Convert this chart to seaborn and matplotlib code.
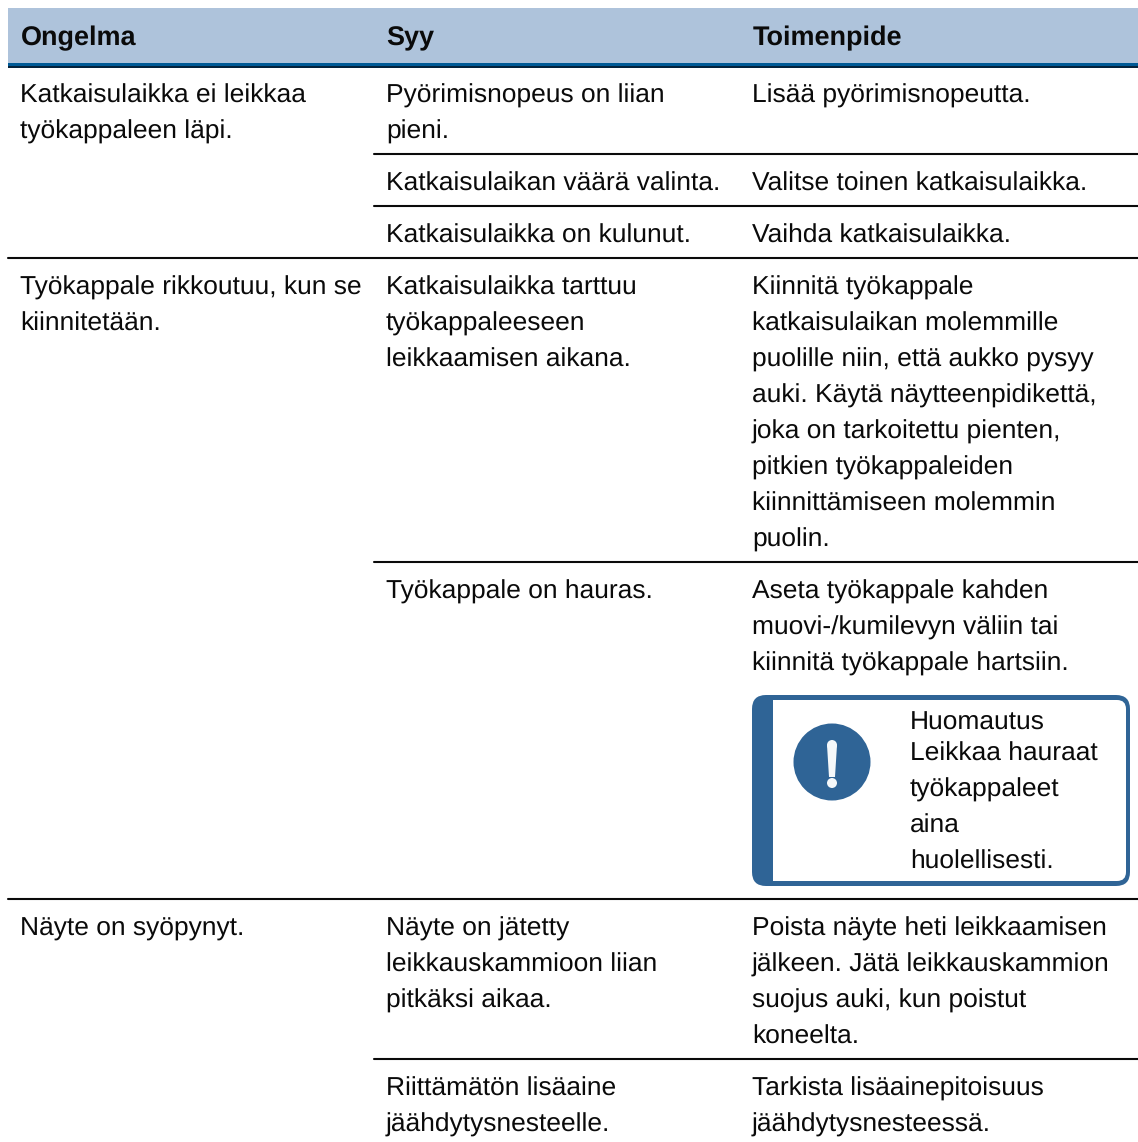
import matplotlib
matplotlib.use('Agg')
import matplotlib.pyplot as plt
import pandas as pd
import seaborn as sns
from matplotlib.patches import Circle, FancyBboxPatch, Polygon, Rectangle

# Texts of the table
headers = ['Ongelma', 'Syy', 'Toimenpide']
problems = [
    (0, ['Katkaisulaikka ei leikkaa', 'työkappaleen läpi.']),
    (3, ['Työkappale rikkoutuu, kun se', 'kiinnitetään.']),
    (5, ['Näyte on syöpynyt.']),
]
causes = [
    ['Pyörimisnopeus on liian', 'pieni.'],
    ['Katkaisulaikan väärä valinta.'],
    ['Katkaisulaikka on kulunut.'],
    ['Katkaisulaikka tarttuu', 'työkappaleeseen', 'leikkaamisen aikana.'],
    ['Työkappale on hauras.'],
    ['Näyte on jätetty', 'leikkauskammioon liian', 'pitkäksi aikaa.'],
    ['Riittämätön lisäaine', 'jäähdytysnesteelle.'],
]
actions = [
    ['Lisää pyörimisnopeutta.'],
    ['Valitse toinen katkaisulaikka.'],
    ['Vaihda katkaisulaikka.'],
    ['Kiinnitä työkappale', 'katkaisulaikan molemmille', 'puolille niin, että aukko pysyy',
     'auki. Käytä näytteenpidikettä,', 'joka on tarkoitettu pienten,',
     'pitkien työkappaleiden', 'kiinnittämiseen molemmin', 'puolin.'],
    ['Aseta työkappale kahden', 'muovi-/kumilevyn väliin tai', 'kiinnitä työkappale hartsiin.'],
    ['Poista näyte heti leikkaamisen', 'jälkeen. Jätä leikkauskammion',
     'suojus auki, kun poistut', 'koneelta.'],
    ['Tarkista lisäainepitoisuus', 'jäähdytysnesteessä.'],
]
note_title = 'Huomautus'
note_lines = ['Leikkaa hauraat', 'työkappaleet', 'aina', 'huolellisesti.']

# Layout in pixels of the picture
W, H = 1138, 1142
col_x = [20, 386, 752]
table_left, col2_left = 8, 374
header_top, header_bottom = 8, 65
line_h = 36
note_extra = 213
BLUE = '#2f6496'

sns.set_theme(style='white')
plt.rcParams['font.family'] = ['Liberation Sans', 'DejaVu Sans']
plt.rcParams['text.hinting'] = 'no_hinting'

fig = plt.figure(figsize=(W / 100, H / 100), dpi=100)
ax = fig.add_axes([0, 0, 1, 1])
fs = 18.98


def put(x, y, s, size=fs, **kw):
    ax.text(x, y + 0.3, s, fontsize=size, color='#0a0a0a', va='baseline', ha='left', **kw)


# Header band
ax.add_patch(Rectangle((table_left, header_top), W - table_left, header_bottom - header_top,
                       color='#aec3db', lw=0))
ax.add_patch(Rectangle((table_left, 63), W - table_left, 3, color='#005a96', lw=0))
ax.add_patch(Rectangle((table_left, 66), W - table_left, 2, color='#05233c', lw=0))
for x, h in zip(col_x, headers):
    put(x + 0.5, 44.7, h, size=19.45, fontweight='bold')

# Row tops come from the number of text lines
tops = [66]
for i, (c, a) in enumerate(zip(causes, actions)):
    n = max(len(c), len(a))
    height = n * line_h + 16
    if i == 4:
        height += note_extra
    tops.append(tops[-1] + height)

for i, (c, a) in enumerate(zip(causes, actions)):
    for k, s in enumerate(c):
        put(col_x[1], tops[i] + 36 + k * line_h, s)
    for k, s in enumerate(a):
        put(col_x[2], tops[i] + 36 + k * line_h, s)
for row, lines in problems:
    for k, s in enumerate(lines):
        put(col_x[0], tops[row] + 36 + k * line_h, s)

# Row rules
rule_rows = []
starts = {row for row, _ in problems}
for r, y in enumerate(tops[1:-1], start=1):
    left = table_left if r in starts else col2_left
    rule_rows.append({'rule': r, 'x': left, 'y': y})
    rule_rows.append({'rule': r, 'x': W, 'y': y})
rules = pd.DataFrame(rule_rows)
sns.lineplot(data=rules, x='x', y='y', units='rule', estimator=None, color='#0a0a0a',
             linewidth=1.5, ax=ax, legend=False)

# Note box: blue rounded frame, white inside with square left corners
ax.add_patch(FancyBboxPatch((766, 709), 350, 163,
                            boxstyle='round,pad=14,rounding_size=14',
                            fc=BLUE, ec='none'))
ax.add_patch(FancyBboxPatch((782, 709), 335, 163,
                            boxstyle='round,pad=9,rounding_size=9',
                            fc='white', ec='none'))
ax.add_patch(Rectangle((773, 700), 20, 181, fc='white', ec='none'))
ax.add_patch(Circle((832, 762), 38.5, fc=BLUE, ec='none'))
ax.add_patch(Circle((832, 745), 5, fc='#f5f8fa', ec='none'))
ax.add_patch(Polygon([(827, 745), (837, 745), (835, 777), (829, 777)],
                     fc='#f5f8fa', ec='none'))
ax.add_patch(Circle((832, 783), 5, fc='#f5f8fa', ec='none'))
put(910, 729, note_title)
for k, s in enumerate(note_lines):
    put(910, 760 + k * line_h, s)

ax.set_xlim(0, W)
ax.set_ylim(H, 0)
ax.axis('off')

fig.savefig('out.png', dpi=100, facecolor='white')
plt.close(fig)
